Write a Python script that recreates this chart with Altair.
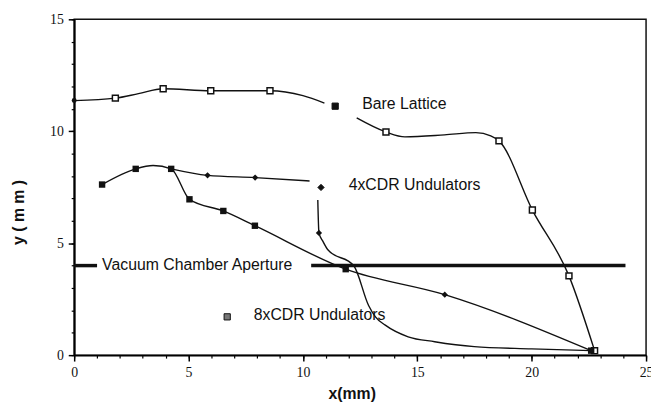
import altair as alt
import pandas as pd

# ---- data ----
bare_x1 = [0.0, 1.80, 2.81, 3.89, 5.97, 8.56, 10.0, 10.94]
bare_y1 = [11.37, 11.48, 11.68, 11.90, 11.81, 11.81, 11.59, 11.26]
bare_x2 = [12.35, 13.63, 14.46, 16.19, 17.56, 18.21, 18.57, 20.03, 21.63, 22.75]
bare_y2 = [10.60, 9.97, 9.75, 9.84, 9.94, 9.79, 9.57, 6.48, 3.54, 0.20]

cdr4_x1 = [4.24, 5.83, 7.91, 10.29]
cdr4_y1 = [8.32, 8.03, 7.93, 7.78]
cdr4_x2 = [10.65, 10.70, 10.87, 11.08, 12.23, 12.87, 13.17, 13.60, 14.60, 15.76, 17.49, 20.0, 22.6]
cdr4_y2 = [6.93, 5.46, 5.09, 4.72, 3.98, 2.22, 1.71, 1.34, 0.82, 0.60, 0.38, 0.28, 0.20]

cdr8_x = [1.22, 2.69, 3.45, 4.24, 5.04, 6.52, 7.90, 11.87, 16.2, 22.6]
cdr8_y = [7.62, 8.32, 8.47, 8.32, 6.96, 6.44, 5.78, 3.84, 2.70, 0.20]

bare_mx = [1.80, 3.89, 5.97, 8.56, 13.63, 18.57, 20.03, 21.63, 22.75]
bare_my = [11.48, 11.90, 11.81, 11.81, 9.97, 9.57, 6.48, 3.54, 0.20]
bare_start = ([0.0], [11.37])

cdr4_mx = [5.83, 7.91, 10.70, 16.2]
cdr4_my = [8.03, 7.93, 5.46, 2.70]

cdr8_mx = [1.22, 2.69, 4.24, 5.04, 6.52, 7.90, 11.87, 22.6]
cdr8_my = [7.62, 8.32, 8.32, 6.96, 6.44, 5.78, 3.84, 0.20]

aperture_x1 = [0.0, 10.36]
aperture_x2 = [1.0, 24.1]
aperture_y = 4.0

label_text = ["Bare Lattice", "4xCDR Undulators", "8xCDR Undulators", "Vacuum Chamber Aperture"]
label_x = [12.59, 12.0, 7.85, 1.22]
label_y = [11.2, 7.59, 1.78, 4.01]

key_shape = ["square", "diamond", "square"]
key_x = [11.41, 10.79, 6.69]
key_y = [11.12, 7.49, 1.71]
key_fill = ["#111111", "#111111", "#777777"]

x_major = [0, 5, 10, 15, 20, 25]
y_major = [0, 5, 10, 15]
x_minor = list(range(0, 26))
y_minor = list(range(0, 16))

# ---- tables ----
lines = pd.DataFrame(
    [{"x": a, "y": b, "seg": "bare1"} for a, b in zip(bare_x1, bare_y1)]
    + [{"x": a, "y": b, "seg": "bare2"} for a, b in zip(bare_x2, bare_y2)]
    + [{"x": a, "y": b, "seg": "c4a"} for a, b in zip(cdr4_x1, cdr4_y1)]
    + [{"x": a, "y": b, "seg": "c4b"} for a, b in zip(cdr4_x2, cdr4_y2)]
    + [{"x": a, "y": b, "seg": "c8"} for a, b in zip(cdr8_x, cdr8_y)]
)
bare_pts = pd.DataFrame({"x": bare_mx, "y": bare_my})
start_pt = pd.DataFrame({"x": bare_start[0], "y": bare_start[1]})
c4_pts = pd.DataFrame({"x": cdr4_mx, "y": cdr4_my})
c8_pts = pd.DataFrame({"x": cdr8_mx, "y": cdr8_my})
aper = pd.DataFrame({"x": aperture_x1, "x2": aperture_x2, "y": [aperture_y] * 2})
labels = pd.DataFrame({"t": label_text, "x": label_x, "y": label_y})
keys = pd.DataFrame({"x": key_x, "y": key_y, "shape": key_shape, "fill": key_fill})

xs = alt.Scale(domain=[0, 25], nice=False, zero=False)
ys = alt.Scale(domain=[0, 15], nice=False, zero=False)

major_x_axis = alt.Axis(
    values=x_major, orient="bottom", tickSize=6, tickWidth=1.5, tickColor="black",
    domain=True, domainWidth=2, domainColor="black", grid=False,
    labelFont="Liberation Serif", labelFontSize=14, labelColor="#111111",
    labelPadding=5, labelFlush=False, labelOverlap=False, labelBound=False,
    title="x(mm)", titleFont="Liberation Sans", titleFontSize=16, titleFontWeight="bold",
    titleColor="#111111", titleX=281, titleY=39, titleBaseline="middle", titleAlign="center",
)
major_y_axis = alt.Axis(
    values=y_major, orient="left", tickSize=6, tickWidth=1.5, tickColor="black",
    domain=True, domainWidth=2, domainColor="black", grid=False,
    labelFont="Liberation Serif", labelFontSize=14, labelColor="#111111",
    labelPadding=5, labelFlush=False, labelOverlap=False, labelBound=False,
    title="y ( m m )", titleFont="Liberation Sans", titleFontSize=16, titleFontWeight="bold",
    titleColor="#111111", titleX=-56, titleY=195, titleBaseline="middle", titleAlign="center",
    titleAngle=270,
)
minor_x_axis = alt.Axis(values=x_minor, orient="bottom", tickSize=3, tickWidth=1.2,
                        tickColor="black", labels=False, domain=False, grid=False, title=None)
minor_y_axis = alt.Axis(values=y_minor, orient="left", tickSize=3, tickWidth=1.2,
                        tickColor="black", labels=False, domain=False, grid=False, title=None)

line_layer = alt.Chart(lines).mark_line(
    color="#111111", strokeWidth=1.4, interpolate="monotone"
).encode(
    x=alt.X("x:Q", scale=xs, axis=major_x_axis),
    y=alt.Y("y:Q", scale=ys, axis=major_y_axis),
    detail="seg:N",
    order="x:Q",
)

aper_layer = alt.Chart(aper).mark_rule(color="#111111", strokeWidth=3.5).encode(
    x=alt.X("x:Q", scale=xs, axis=minor_x_axis),
    x2="x2:Q",
    y=alt.Y("y:Q", scale=ys, axis=minor_y_axis),
)

bare_layer = alt.Chart(bare_pts).mark_point(
    shape="square", filled=True, fill="white", stroke="#111111", strokeWidth=1.5, size=36, opacity=1
).encode(x=alt.X("x:Q", scale=xs, axis=None), y=alt.Y("y:Q", scale=ys, axis=None))

start_layer = alt.Chart(start_pt).mark_point(
    shape="circle", filled=True, color="#111111", size=25, opacity=1
).encode(x=alt.X("x:Q", scale=xs, axis=None), y=alt.Y("y:Q", scale=ys, axis=None))

c4_layer = alt.Chart(c4_pts).mark_point(
    shape="diamond", filled=True, color="#111111", size=40, opacity=1
).encode(x=alt.X("x:Q", scale=xs, axis=None), y=alt.Y("y:Q", scale=ys, axis=None))

c8_layer = alt.Chart(c8_pts).mark_point(
    shape="square", filled=True, color="#111111", size=42, opacity=1
).encode(x=alt.X("x:Q", scale=xs, axis=None), y=alt.Y("y:Q", scale=ys, axis=None))

key_layer = alt.Chart(keys).mark_point(
    filled=True, stroke="#111111", strokeWidth=1, size=40, opacity=1
).encode(
    x=alt.X("x:Q", scale=xs, axis=None),
    y=alt.Y("y:Q", scale=ys, axis=None),
    shape=alt.Shape("shape:N", scale=None),
    fill=alt.Fill("fill:N", scale=None),
)

text_layer = alt.Chart(labels).mark_text(
    align="left", baseline="middle", font="Liberation Sans", fontSize=16, color="#111111"
).encode(x=alt.X("x:Q", scale=xs, axis=None), y=alt.Y("y:Q", scale=ys, axis=None), text="t:N")

chart = alt.layer(
    aper_layer, line_layer, bare_layer, start_layer, c4_layer, c8_layer, key_layer, text_layer
).resolve_axis(x="independent", y="independent").properties(
    width=579, height=340,
    autosize=alt.AutoSizeParams(type="none"),
    padding={"left": 67, "top": 9, "right": 5, "bottom": 46},
    background="white",
).configure_view(stroke="#111111", strokeWidth=1.5)

chart.save("out.html", embed_options={"renderer": "svg", "actions": False})
